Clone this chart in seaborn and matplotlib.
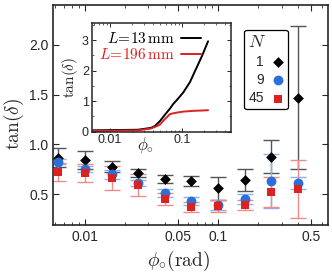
import numpy as np
import pandas as pd
import matplotlib
matplotlib.use("Agg")
import matplotlib.pyplot as plt
import matplotlib.ticker as mticker
import seaborn as sns

# ── data ─────────────────────────────────────────────────────────────────────
phi = [0.0063, 0.01, 0.016, 0.025, 0.04, 0.063, 0.1, 0.16, 0.25, 0.4]

tan_n1 = [0.866, 0.84, 0.775, 0.71, 0.65, 0.63, 0.557, 0.64, 0.876, 1.47]
err_n1 = [0.092, 0.09, 0.055, 0.04, 0.04, 0.05, 0.114, 0.11, 0.168, 0.72]

tan_n9 = [0.825, 0.75, 0.70, 0.61, 0.515, 0.43, 0.39, 0.447, 0.63, 0.61]
err_n9 = [0.025, 0.03, 0.045, 0.03, 0.04, 0.04, 0.05, 0.05, 0.27, 0.06]

tan_n45 = [0.72, 0.71, 0.66, 0.59, 0.45, 0.37, 0.38, 0.39, 0.52, 0.55]
err_n45 = [0.09, 0.09, 0.12, 0.11, 0.06, 0.05, 0.06, 0.05, 0.15, 0.29]

# inset curves
phi_in = [0.0056, 0.0245, 0.037, 0.042, 0.049, 0.058, 0.068, 0.076, 0.084,
          0.104, 0.129, 0.144, 0.188, 0.23]
tan_13 = [0.04, 0.06, 0.12, 0.18, 0.33, 0.55, 0.75, 0.91, 1.02,
          1.28, 1.62, 1.87, 2.46, 2.96]
tan_196 = [0.02, 0.04, 0.10, 0.15, 0.22, 0.41, 0.57, 0.60, 0.62,
           0.655, 0.67, 0.68, 0.69, 0.70]

sns.set_theme(style="ticks")
plt.rcParams.update({"font.family": ["Liberation Sans", "DejaVu Sans"],
                     "mathtext.fontset": "cm",
                     "xtick.direction": "in", "ytick.direction": "in",
                     "xtick.top": True, "ytick.right": True})

BLACK, BLUE, RED = "#000000", "#2a70d8", "#dd2020"

fig = plt.figure(figsize=(3.32, 2.77), dpi=100)
ax = fig.add_axes([0.160, 0.188, 0.828, 0.794])

series = [
    ("1", tan_n1, err_n1, BLACK, "#555555", "D", 30),
    ("9", tan_n9, err_n9, BLUE, "#8ab2ee", "o", 50),
    ("45", tan_n45, err_n45, RED, "#ee8a8a", "s", 32),
]
for lab, y, e, col, ecol, mk, s in series:
    ax.errorbar(phi, y, yerr=e, fmt="none", ecolor=ecol, elinewidth=1,
                capsize=6, capthick=1, zorder=2)
for lab, y, e, col, ecol, mk, s in series:
    sns.scatterplot(x=phi, y=y, marker=mk, color=col, s=s, linewidth=0,
                    label=lab, ax=ax, zorder=3)

ax.set_xscale("log")
ax.set_xlim(0.0058, 0.67)
ax.set_ylim(0.19, 2.4)
ax.xaxis.set_major_locator(mticker.FixedLocator([0.01, 0.05, 0.1, 0.5]))
ax.xaxis.set_major_formatter(mticker.FixedFormatter(["0.01", "0.05", "0.1", "0.5"]))
ax.xaxis.set_minor_locator(mticker.LogLocator(subs=np.arange(2, 10)))
ax.xaxis.set_minor_formatter(mticker.NullFormatter())
ax.yaxis.set_major_locator(mticker.FixedLocator([0.5, 1.0, 1.5, 2.0]))
ax.yaxis.set_major_formatter(mticker.FormatStrFormatter("%.1f"))
ax.tick_params(which="major", length=4, width=0.8, labelsize=10)
ax.tick_params(which="minor", length=2, width=0.6)
for sp in ax.spines.values():
    sp.set_linewidth(1.2)
ax.set_xlabel(r"$\phi_{\circ}(\mathrm{rad})$", fontsize=14)
ax.xaxis.set_label_coords(0.455, -0.11)
ax.set_ylabel(r"$\tan(\delta)$", fontsize=14)
ax.yaxis.set_label_coords(-0.10, 0.46)

leg = ax.legend(title=r"$N$", loc="upper left", bbox_to_anchor=(0.67, 0.92),
                markerfirst=False, fontsize=10, title_fontsize=13,
                handlelength=0.8, handletextpad=0.6, borderpad=0.3,
                labelspacing=0.3, fancybox=True, framealpha=1,
                edgecolor="black", alignment="left")
leg.get_frame().set_linewidth(0.9)

# ── inset ────────────────────────────────────────────────────────────────────
ins = fig.add_axes([0.276, 0.525, 0.419, 0.391])
df_in = pd.DataFrame({"phi": phi_in * 2,
                      "tan": tan_13 + tan_196,
                      "L": [r"$L\!=\!13\,\mathrm{mm}$"] * len(phi_in)
                           + [r"$L\!=\!196\,\mathrm{mm}$"] * len(phi_in)})
sns.lineplot(data=df_in, x="phi", y="tan", hue="L",
             palette=[BLACK, RED], linewidth=1.4, ax=ins)
ins.set_xscale("log")
ins.set_xlim(0.0056, 0.474)
ins.set_ylim(0, 3.55)
ins.xaxis.set_major_locator(mticker.FixedLocator([0.01, 0.1]))
ins.xaxis.set_major_formatter(mticker.FixedFormatter(["0.01", "0.1"]))
ins.xaxis.set_minor_locator(mticker.LogLocator(subs=np.arange(2, 10)))
ins.xaxis.set_minor_formatter(mticker.NullFormatter())
ins.yaxis.set_major_locator(mticker.MultipleLocator(1))
ins.yaxis.set_minor_locator(mticker.MultipleLocator(0.5))
ins.tick_params(which="major", length=3, width=0.7, labelsize=9, pad=2)
ins.tick_params(which="minor", length=1.5, width=0.5)
for sp in ins.spines.values():
    sp.set_linewidth(1.1)
ins.set_xlabel(r"$\phi_{\circ}$", fontsize=12, labelpad=-12)
ins.xaxis.set_label_coords(0.39, -0.03)
ins.set_ylabel(r"$\tan(\delta)$", fontsize=11, labelpad=1)
lg = ins.legend(loc="upper left", frameon=False, markerfirst=False,
                fontsize=11, handlelength=1.3, handletextpad=0.4,
                borderpad=0.3, labelspacing=0.1, borderaxespad=0.2)
for t, c in zip(lg.get_texts(), [BLACK, RED]):
    t.set_color(c)
lg.set_title(None)

fig.savefig("out.png", dpi=100)
